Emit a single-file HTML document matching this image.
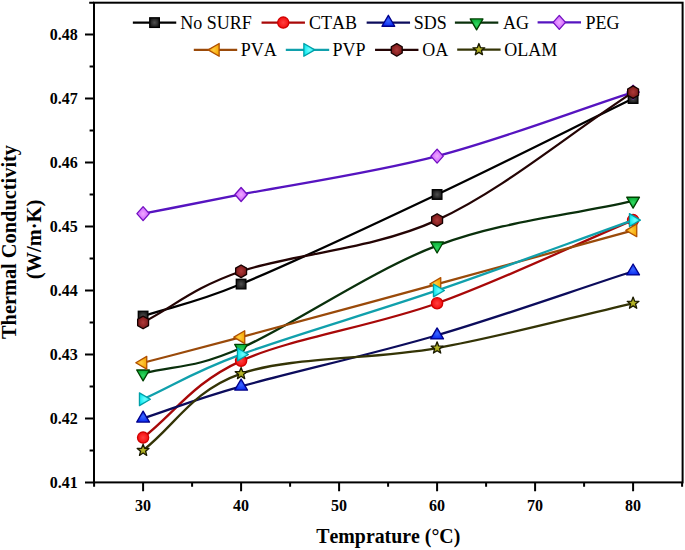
<!DOCTYPE html>
<html><head><meta charset="utf-8"><style>
html,body{margin:0;padding:0;background:#fff;width:685px;height:550px;overflow:hidden}
svg{display:block}
text{font-family:"Liberation Serif",serif;fill:#000;font-kerning:none}
.tl{font-size:16px;font-weight:bold}
.at{font-size:20px;font-weight:bold}
.lg{font-size:18px}
</style></head><body>
<svg width="685" height="550" viewBox="0 0 685 550">
<defs>
<radialGradient id="g0" cx="0.5" cy="0.5" r="0.55"><stop offset="0" stop-color="#505050"/><stop offset="1" stop-color="#141414"/></radialGradient>
<radialGradient id="g1" cx="0.5" cy="0.5" r="0.55"><stop offset="0" stop-color="#ff4040"/><stop offset="1" stop-color="#f20808"/></radialGradient>
<radialGradient id="g2" cx="0.5" cy="0.5" r="0.55"><stop offset="0" stop-color="#3a66ff"/><stop offset="1" stop-color="#0626f0"/></radialGradient>
<radialGradient id="g3" cx="0.5" cy="0.5" r="0.55"><stop offset="0" stop-color="#30d860"/><stop offset="1" stop-color="#06a832"/></radialGradient>
<radialGradient id="g4" cx="0.5" cy="0.5" r="0.55"><stop offset="0" stop-color="#eeaaff"/><stop offset="1" stop-color="#cc55ff"/></radialGradient>
<radialGradient id="g5" cx="0.5" cy="0.5" r="0.55"><stop offset="0" stop-color="#ffcc40"/><stop offset="1" stop-color="#f5a400"/></radialGradient>
<radialGradient id="g6" cx="0.5" cy="0.5" r="0.55"><stop offset="0" stop-color="#70ffff"/><stop offset="1" stop-color="#06e6ee"/></radialGradient>
<radialGradient id="g7" cx="0.5" cy="0.5" r="0.55"><stop offset="0" stop-color="#b03a3a"/><stop offset="1" stop-color="#741616"/></radialGradient>
<radialGradient id="g8" cx="0.5" cy="0.5" r="0.55"><stop offset="0" stop-color="#b8b830"/><stop offset="1" stop-color="#8e8e00"/></radialGradient>
</defs>
<rect x="94.0" y="2.7" width="588.6" height="479.7" fill="none" stroke="#000" stroke-width="2"/>
<path d="M89.2,2.7 H94 M85.0,482.40 H94.0 M89.6,450.41 H94.0 M85.0,418.42 H94.0 M89.6,386.43 H94.0 M85.0,354.44 H94.0 M89.6,322.45 H94.0 M85.0,290.46 H94.0 M89.6,258.47 H94.0 M85.0,226.48 H94.0 M89.6,194.49 H94.0 M85.0,162.50 H94.0 M89.6,130.51 H94.0 M85.0,98.52 H94.0 M89.6,66.53 H94.0 M85.0,34.54 H94.0 M94.10,482.4 V486.8 M143.10,482.4 V491.2 M192.10,482.4 V486.8 M241.10,482.4 V491.2 M290.10,482.4 V486.8 M339.10,482.4 V491.2 M388.10,482.4 V486.8 M437.10,482.4 V491.2 M486.10,482.4 V486.8 M535.10,482.4 V491.2 M584.10,482.4 V486.8 M633.10,482.4 V491.2 M682.10,482.4 V486.8" stroke="#000" stroke-width="2" fill="none"/>
<text x="77.8" y="487.70" text-anchor="end" class="tl">0.41</text>
<text x="77.8" y="423.72" text-anchor="end" class="tl">0.42</text>
<text x="77.8" y="359.74" text-anchor="end" class="tl">0.43</text>
<text x="77.8" y="295.76" text-anchor="end" class="tl">0.44</text>
<text x="77.8" y="231.78" text-anchor="end" class="tl">0.45</text>
<text x="77.8" y="167.80" text-anchor="end" class="tl">0.46</text>
<text x="77.8" y="103.82" text-anchor="end" class="tl">0.47</text>
<text x="77.8" y="39.84" text-anchor="end" class="tl">0.48</text>
<text x="143.10" y="511" text-anchor="middle" class="tl">30</text>
<text x="241.10" y="511" text-anchor="middle" class="tl">40</text>
<text x="339.10" y="511" text-anchor="middle" class="tl">50</text>
<text x="437.10" y="511" text-anchor="middle" class="tl">60</text>
<text x="535.10" y="511" text-anchor="middle" class="tl">70</text>
<text x="633.10" y="511" text-anchor="middle" class="tl">80</text>
<text x="460.3" y="543.4" text-anchor="end" class="at" textLength="144" lengthAdjust="spacingAndGlyphs">Temprature (°C)</text>
<text transform="translate(16.2,339) rotate(-90)" x="0" y="0" class="at" textLength="194" lengthAdjust="spacingAndGlyphs">Thermal Conductivity</text>
<text transform="translate(40.6,279.3) rotate(-90)" x="0" y="0" class="at" textLength="79.5" lengthAdjust="spacingAndGlyphs">(W/m·K)</text>
<path d="M143.10,316.05 C175.77,305.39 192.10,304.32 241.10,284.06 C290.10,263.80 371.77,225.41 437.10,194.49 C502.43,163.57 567.77,130.51 633.10,98.52" stroke="#000000" stroke-width="2.3" fill="none" stroke-linejoin="round"/>
<rect x="138.30" y="311.25" width="9.6" height="9.6" fill="url(#g0)" stroke="#000000" stroke-width="1.3"/>
<rect x="236.30" y="279.26" width="9.6" height="9.6" fill="url(#g0)" stroke="#000000" stroke-width="1.3"/>
<rect x="432.30" y="189.69" width="9.6" height="9.6" fill="url(#g0)" stroke="#000000" stroke-width="1.3"/>
<rect x="628.30" y="93.72" width="9.6" height="9.6" fill="url(#g0)" stroke="#000000" stroke-width="1.3"/>
<path d="M143.10,437.61 C175.77,412.02 192.10,383.23 241.10,360.84 C290.10,338.44 371.77,326.72 437.10,303.26 C502.43,279.80 567.77,247.81 633.10,220.08" stroke="#a80808" stroke-width="2.3" fill="none" stroke-linejoin="round"/>
<circle cx="143.10" cy="437.61" r="5.6" fill="url(#g1)" stroke="#d00000" stroke-width="1.3"/>
<circle cx="241.10" cy="360.84" r="5.6" fill="url(#g1)" stroke="#d00000" stroke-width="1.3"/>
<circle cx="437.10" cy="303.26" r="5.6" fill="url(#g1)" stroke="#d00000" stroke-width="1.3"/>
<circle cx="633.10" cy="220.08" r="5.6" fill="url(#g1)" stroke="#d00000" stroke-width="1.3"/>
<path d="M143.10,418.42 C175.77,407.76 192.10,400.29 241.10,386.43 C290.10,372.57 371.77,354.44 437.10,335.25 C502.43,316.05 567.77,292.59 633.10,271.27" stroke="#0c0c5c" stroke-width="2.3" fill="none" stroke-linejoin="round"/>
<polygon points="143.10,411.12 149.50,422.07 136.70,422.07" fill="url(#g2)" stroke="#00008a" stroke-width="1.3" stroke-linejoin="round"/>
<polygon points="241.10,379.13 247.50,390.08 234.70,390.08" fill="url(#g2)" stroke="#00008a" stroke-width="1.3" stroke-linejoin="round"/>
<polygon points="437.10,327.95 443.50,338.90 430.70,338.90" fill="url(#g2)" stroke="#00008a" stroke-width="1.3" stroke-linejoin="round"/>
<polygon points="633.10,263.97 639.50,274.92 626.70,274.92" fill="url(#g2)" stroke="#00008a" stroke-width="1.3" stroke-linejoin="round"/>
<path d="M143.10,373.63 C175.77,365.10 192.10,369.37 241.10,348.04 C290.10,326.72 371.77,270.20 437.10,245.67 C502.43,221.15 567.77,215.82 633.10,200.89" stroke="#0a300c" stroke-width="2.3" fill="none" stroke-linejoin="round"/>
<polygon points="143.10,380.93 149.50,369.98 136.70,369.98" fill="url(#g3)" stroke="#004000" stroke-width="1.3" stroke-linejoin="round"/>
<polygon points="241.10,355.34 247.50,344.39 234.70,344.39" fill="url(#g3)" stroke="#004000" stroke-width="1.3" stroke-linejoin="round"/>
<polygon points="437.10,252.97 443.50,242.02 430.70,242.02" fill="url(#g3)" stroke="#004000" stroke-width="1.3" stroke-linejoin="round"/>
<polygon points="633.10,208.19 639.50,197.24 626.70,197.24" fill="url(#g3)" stroke="#004000" stroke-width="1.3" stroke-linejoin="round"/>
<path d="M143.10,213.68 C175.77,207.29 192.10,204.09 241.10,194.49 C290.10,184.89 371.77,173.16 437.10,156.10 C502.43,139.04 567.77,113.45 633.10,92.12" stroke="#5614c0" stroke-width="2.3" fill="none" stroke-linejoin="round"/>
<polygon points="143.10,206.68 149.30,213.68 143.10,220.68 136.90,213.68" fill="url(#g4)" stroke="#7010c0" stroke-width="1.3" stroke-linejoin="round"/>
<polygon points="241.10,187.49 247.30,194.49 241.10,201.49 234.90,194.49" fill="url(#g4)" stroke="#7010c0" stroke-width="1.3" stroke-linejoin="round"/>
<polygon points="437.10,149.10 443.30,156.10 437.10,163.10 430.90,156.10" fill="url(#g4)" stroke="#7010c0" stroke-width="1.3" stroke-linejoin="round"/>
<polygon points="633.10,85.12 639.30,92.12 633.10,99.12 626.90,92.12" fill="url(#g4)" stroke="#7010c0" stroke-width="1.3" stroke-linejoin="round"/>
<path d="M143.10,362.76 C175.77,354.23 192.10,350.28 241.10,337.17 C290.10,324.05 371.77,301.87 437.10,284.06 C502.43,266.25 567.77,248.23 633.10,230.32" stroke="#9a4a0a" stroke-width="2.3" fill="none" stroke-linejoin="round"/>
<polygon points="135.80,362.76 146.75,356.36 146.75,369.16" fill="url(#g5)" stroke="#b05000" stroke-width="1.3" stroke-linejoin="round"/>
<polygon points="233.80,337.17 244.75,330.77 244.75,343.57" fill="url(#g5)" stroke="#b05000" stroke-width="1.3" stroke-linejoin="round"/>
<polygon points="429.80,284.06 440.75,277.66 440.75,290.46" fill="url(#g5)" stroke="#b05000" stroke-width="1.3" stroke-linejoin="round"/>
<polygon points="625.80,230.32 636.75,223.92 636.75,236.72" fill="url(#g5)" stroke="#b05000" stroke-width="1.3" stroke-linejoin="round"/>
<path d="M143.10,399.23 C175.77,384.30 192.10,372.57 241.10,354.44 C290.10,336.31 371.77,312.85 437.10,290.46 C502.43,268.07 567.77,243.54 633.10,220.08" stroke="#10a0ac" stroke-width="2.3" fill="none" stroke-linejoin="round"/>
<polygon points="150.40,399.23 139.45,392.83 139.45,405.63" fill="url(#g6)" stroke="#00a0a8" stroke-width="1.3" stroke-linejoin="round"/>
<polygon points="248.40,354.44 237.45,348.04 237.45,360.84" fill="url(#g6)" stroke="#00a0a8" stroke-width="1.3" stroke-linejoin="round"/>
<polygon points="444.40,290.46 433.45,284.06 433.45,296.86" fill="url(#g6)" stroke="#00a0a8" stroke-width="1.3" stroke-linejoin="round"/>
<polygon points="640.40,220.08 629.45,213.68 629.45,226.48" fill="url(#g6)" stroke="#00a0a8" stroke-width="1.3" stroke-linejoin="round"/>
<path d="M143.10,322.45 C175.77,305.39 192.10,288.33 241.10,271.27 C290.10,254.20 371.77,249.94 437.10,220.08 C502.43,190.22 567.77,134.78 633.10,92.12" stroke="#240404" stroke-width="2.3" fill="none" stroke-linejoin="round"/>
<polygon points="143.10,316.15 148.56,319.30 148.56,325.60 143.10,328.75 137.64,325.60 137.64,319.30" fill="url(#g7)" stroke="#140000" stroke-width="1.3" stroke-linejoin="round"/>
<polygon points="241.10,264.97 246.56,268.12 246.56,274.42 241.10,277.57 235.64,274.42 235.64,268.12" fill="url(#g7)" stroke="#140000" stroke-width="1.3" stroke-linejoin="round"/>
<polygon points="437.10,213.78 442.56,216.93 442.56,223.23 437.10,226.38 431.64,223.23 431.64,216.93" fill="url(#g7)" stroke="#140000" stroke-width="1.3" stroke-linejoin="round"/>
<polygon points="633.10,85.82 638.56,88.97 638.56,95.27 633.10,98.42 627.64,95.27 627.64,88.97" fill="url(#g7)" stroke="#140000" stroke-width="1.3" stroke-linejoin="round"/>
<path d="M143.10,450.41 C175.77,424.82 192.10,390.70 241.10,373.63 C290.10,356.57 371.77,359.77 437.10,348.04 C502.43,336.31 567.77,318.18 633.10,303.26" stroke="#343406" stroke-width="2.3" fill="none" stroke-linejoin="round"/>
<polygon points="143.10,444.21 144.66,448.27 149.00,448.49 145.62,451.23 146.74,455.43 143.10,453.06 139.46,455.43 140.58,451.23 137.20,448.49 141.54,448.27" fill="url(#g8)" stroke="#1a1a00" stroke-width="1.3" stroke-linejoin="round"/>
<polygon points="241.10,367.43 242.66,371.49 247.00,371.72 243.62,374.45 244.74,378.65 241.10,376.28 237.46,378.65 238.58,374.45 235.20,371.72 239.54,371.49" fill="url(#g8)" stroke="#1a1a00" stroke-width="1.3" stroke-linejoin="round"/>
<polygon points="437.10,341.84 438.66,345.90 443.00,346.13 439.62,348.86 440.74,353.06 437.10,350.69 433.46,353.06 434.58,348.86 431.20,346.13 435.54,345.90" fill="url(#g8)" stroke="#1a1a00" stroke-width="1.3" stroke-linejoin="round"/>
<polygon points="633.10,297.06 634.66,301.11 639.00,301.34 635.62,304.07 636.74,308.27 633.10,305.91 629.46,308.27 630.58,304.07 627.20,301.34 631.54,301.11" fill="url(#g8)" stroke="#1a1a00" stroke-width="1.3" stroke-linejoin="round"/>
<path d="M132.85,22.6 H176.25" stroke="#000000" stroke-width="2.2"/>
<rect x="149.75" y="17.80" width="9.6" height="9.6" fill="url(#g0)" stroke="#000000" stroke-width="1.3"/>
<text x="180.2" y="28.5" class="lg">No SURF</text>
<path d="M261.55,22.6 H304.95" stroke="#a80808" stroke-width="2.2"/>
<circle cx="283.25" cy="22.60" r="5.6" fill="url(#g1)" stroke="#d00000" stroke-width="1.3"/>
<text x="309.0" y="28.5" class="lg">CTAB</text>
<path d="M366.65,22.6 H410.05" stroke="#0c0c5c" stroke-width="2.2"/>
<polygon points="388.35,15.30 394.75,26.25 381.95,26.25" fill="url(#g2)" stroke="#00008a" stroke-width="1.3" stroke-linejoin="round"/>
<text x="413.8" y="28.5" class="lg">SDS</text>
<path d="M454.90,22.6 H498.30" stroke="#0a300c" stroke-width="2.2"/>
<polygon points="476.60,29.90 483.00,18.95 470.20,18.95" fill="url(#g3)" stroke="#004000" stroke-width="1.3" stroke-linejoin="round"/>
<text x="503.0" y="28.5" class="lg">AG</text>
<path d="M537.60,22.4 H581.00" stroke="#5614c0" stroke-width="2.2"/>
<polygon points="559.30,15.40 565.50,22.40 559.30,29.40 553.10,22.40" fill="url(#g4)" stroke="#7010c0" stroke-width="1.3" stroke-linejoin="round"/>
<text x="585.4" y="28.5" class="lg">PEG</text>
<path d="M193.80,49.9 H237.20" stroke="#9a4a0a" stroke-width="2.2"/>
<polygon points="208.20,49.90 219.15,43.50 219.15,56.30" fill="url(#g5)" stroke="#b05000" stroke-width="1.3" stroke-linejoin="round"/>
<text x="240.8" y="56.0" class="lg">PVA</text>
<path d="M285.80,49.9 H329.20" stroke="#10a0ac" stroke-width="2.2"/>
<polygon points="314.80,49.90 303.85,43.50 303.85,56.30" fill="url(#g6)" stroke="#00a0a8" stroke-width="1.3" stroke-linejoin="round"/>
<text x="332.6" y="56.0" class="lg">PVP</text>
<path d="M375.05,49.9 H418.45" stroke="#240404" stroke-width="2.2"/>
<polygon points="396.75,43.60 402.21,46.75 402.21,53.05 396.75,56.20 391.29,53.05 391.29,46.75" fill="url(#g7)" stroke="#140000" stroke-width="1.3" stroke-linejoin="round"/>
<text x="422.3" y="56.0" class="lg">OA</text>
<path d="M457.20,49.7 H500.60" stroke="#343406" stroke-width="2.2"/>
<polygon points="478.90,43.50 480.46,47.56 484.80,47.78 481.42,50.52 482.54,54.72 478.90,52.35 475.26,54.72 476.38,50.52 473.00,47.78 477.34,47.56" fill="url(#g8)" stroke="#1a1a00" stroke-width="1.3" stroke-linejoin="round"/>
<text x="504.2" y="56.0" class="lg">OLAM</text>
</svg>
</body></html>
